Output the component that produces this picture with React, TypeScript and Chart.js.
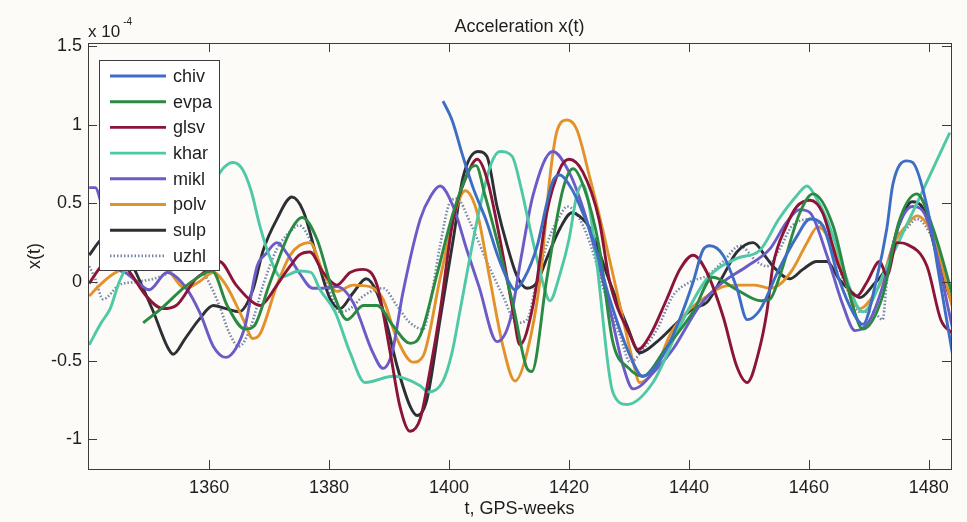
import React, { useEffect, useRef } from 'react';
import { Chart, registerables } from 'chart.js';

Chart.register(...registerables);

type Pts = [number, number][];

// values in units of 1e-4, x = GPS week
const chiv: Pts = [[1399,1.15],[1400.5,1.03],[1402.3,0.8],[1404,0.6],[1406.3,0.38],[1408,0.18],[1409.7,0.02],[1411,-0.05],[1412.5,0.02],[1414.7,0.23],[1416.3,0.5],[1417.3,0.64],[1418.5,0.68],[1420,0.62],[1421.3,0.53],[1424,0.27],[1426.8,-0.11],[1430.2,-0.47],[1432.3,-0.6],[1435,-0.51],[1438,-0.28],[1440.7,0],[1442.3,0.2],[1443.5,0.23],[1445.7,0.17],[1448,-0.04],[1449.7,-0.24],[1451.8,-0.18],[1455,0.08],[1458,0.29],[1460.2,0.4],[1462.3,0.36],[1465,0.02],[1467.3,-0.19],[1469,-0.27],[1471.3,0.02],[1473,0.34],[1474,0.62],[1476.3,0.77],[1477.3,0.76],[1479.7,0.48],[1481.8,0.02],[1484,-0.47]];

const evpa: Pts = [[1349,-0.26],[1352,-0.17],[1356,-0.03],[1359.5,0.06],[1360.5,0.07],[1363,-0.15],[1366,-0.3],[1367.5,-0.28],[1370,-0.02],[1373.5,0.32],[1375.5,0.41],[1378,0.27],[1380.7,-0.07],[1383,-0.24],[1385.7,-0.15],[1388,-0.15],[1390.7,-0.28],[1393.5,-0.39],[1395.2,-0.34],[1398,0.05],[1400.7,0.44],[1403.5,0.72],[1404.5,0.74],[1406,0.55],[1408.5,0.19],[1410.7,-0.15],[1413,-0.55],[1413.8,-0.57],[1416.3,0.02],[1419,0.59],[1420.7,0.72],[1422.5,0.6],[1425,0.23],[1427.3,-0.38],[1430,-0.55],[1432.3,-0.6],[1436,-0.43],[1440.7,-0.19],[1444,0.03],[1448,-0.05],[1452,-0.12],[1453.5,-0.11],[1455,0.02],[1458.5,0.44],[1460.7,0.56],[1464,0.36],[1467.3,-0.15],[1469,-0.3],[1472.3,-0.09],[1475,0.38],[1478,0.56],[1480.7,0.34],[1484,-0.09]];

const glsv: Pts = [[1340,-0.01],[1342,0.1],[1344,0.15],[1346,0.1],[1347,0.05],[1349.5,-0.09],[1352.3,-0.17],[1354.5,-0.15],[1357.8,0.02],[1360,0.08],[1361.7,0.13],[1364.5,-0.02],[1367.3,-0.13],[1368.5,-0.15],[1369.5,-0.12],[1371.3,-0.02],[1373.5,0.1],[1375,0.17],[1376.8,0.19],[1379,0.06],[1381.3,-0.02],[1383.5,0.06],[1385.7,0.08],[1388,-0.02],[1390.2,-0.45],[1391.8,-0.79],[1393.5,-0.95],[1395.2,-0.87],[1396.8,-0.57],[1398.5,-0.19],[1400.7,0.4],[1403,0.68],[1404.7,0.78],[1406.3,0.66],[1408.5,0.27],[1410.7,-0.19],[1411.8,-0.4],[1414,-0.15],[1416.3,0.44],[1418.5,0.72],[1420,0.78],[1422.3,0.7],[1425,0.4],[1426.8,0],[1430.2,-0.34],[1431.5,-0.43],[1433.5,-0.34],[1436.3,-0.11],[1438.5,0.08],[1440.7,0.17],[1443,0.06],[1445.7,-0.22],[1448,-0.54],[1449.7,-0.64],[1451.8,-0.42],[1453,-0.19],[1454,0.1],[1456.3,0.36],[1458,0.48],[1460.2,0.52],[1462.3,0.44],[1465,0.1],[1468,-0.09],[1469.7,0],[1471.8,0.13],[1473,0.04],[1474.7,0.25],[1476.3,0.24],[1479.7,0.1],[1482,-0.24],[1484,-0.33]];

const khar: Pts = [[1340,-0.4],[1342,-0.26],[1343.5,-0.17],[1345,0.0],[1347,0.15],[1350,0.3],[1354,0.4],[1358,0.5],[1361,0.65],[1362.5,0.73],[1364,0.76],[1365.5,0.72],[1367,0.58],[1368.5,0.35],[1370,0.17],[1372,0.03],[1375,0.07],[1377,0.06],[1378.5,-0.05],[1381,-0.19],[1383.5,-0.45],[1386,-0.64],[1390.7,-0.6],[1395.2,-0.66],[1396.5,-0.7],[1399,-0.63],[1400.5,-0.45],[1401.8,-0.19],[1405,0.45],[1407,0.75],[1408.5,0.83],[1410.5,0.8],[1412,0.6],[1413.5,0.34],[1416.3,-0.09],[1416.8,-0.12],[1418.5,0.05],[1420,0.27],[1421.3,0.55],[1422.3,0.62],[1423.3,0.5],[1424.7,0.1],[1427.3,-0.7],[1429.7,-0.78],[1434,-0.64],[1438.5,-0.28],[1443,0.02],[1448,0.15],[1451.8,0.2],[1455,0.4],[1458,0.55],[1459.7,0.61],[1461,0.55],[1463,0.4],[1468,-0.15],[1469,-0.19],[1473,0.1],[1483.5,0.95]];

const mikl: Pts = [[1340,0.6],[1341,0.6],[1342,0.5],[1343.5,0.25],[1345,0.08],[1346,0.06],[1348,0.0],[1350,-0.05],[1353,0.06],[1356,-0.03],[1358.5,-0.2],[1360.7,-0.41],[1362.8,-0.48],[1364.5,-0.42],[1366,-0.28],[1368,0.1],[1369.5,0.18],[1371.3,0.25],[1373,0.18],[1375,0.06],[1377.3,-0.04],[1379,-0.04],[1381.3,-0.03],[1384,-0.13],[1387.3,-0.45],[1389,-0.55],[1390.5,-0.45],[1392.3,-0.07],[1395.2,0.4],[1397,0.55],[1398.5,0.61],[1400.7,0.48],[1403,0.2],[1405,-0.03],[1408,-0.38],[1410.2,-0.24],[1412,0.15],[1414,0.55],[1417.3,0.83],[1420,0.7],[1422.5,0.45],[1424.7,0.15],[1426.8,-0.17],[1429,-0.53],[1430.7,-0.68],[1434.7,-0.55],[1437.3,-0.43],[1441.8,-0.15],[1445.7,0],[1449.7,0.1],[1453.5,0.21],[1456.3,0.38],[1458.5,0.46],[1460.2,0.44],[1463,0.17],[1465.7,-0.15],[1467.7,-0.31],[1470.2,-0.24],[1472.3,-0.03],[1475,0.36],[1477.3,0.48],[1479.7,0.4],[1484,-0.3]];

const polv: Pts = [[1340,-0.09],[1341.5,-0.03],[1344,0.05],[1347,0.1],[1350,0.12],[1353,0.08],[1356,-0.04],[1358.3,0],[1360.7,0.06],[1362.8,-0.02],[1365.7,-0.24],[1367.3,-0.36],[1368.5,-0.33],[1371.3,-0.02],[1373.5,0.17],[1375,0.23],[1376.8,0.25],[1379,0.06],[1381.3,-0.06],[1384,-0.02],[1386.8,-0.03],[1389,-0.11],[1391.3,-0.36],[1394,-0.51],[1395.7,-0.47],[1398.5,0.02],[1401.3,0.48],[1402.7,0.58],[1404.7,0.44],[1406.8,0.02],[1409,-0.41],[1411,-0.63],[1413,-0.45],[1415.2,0.02],[1416.8,0.66],[1418,0.96],[1419.7,1.03],[1421.3,0.97],[1423.5,0.66],[1425.7,0.32],[1428.5,-0.15],[1430.7,-0.51],[1431.8,-0.64],[1434.7,-0.53],[1436.8,-0.34],[1439.7,-0.19],[1443,-0.09],[1445.7,-0.03],[1448.5,-0.02],[1451,-0.02],[1453.5,-0.04],[1455,-0.02],[1457.3,0.08],[1459.7,0.25],[1461.5,0.35],[1464,0.23],[1466.8,-0.07],[1468.5,-0.17],[1470.7,-0.09],[1472.3,0.02],[1474,0.23],[1476.3,0.36],[1478,0.42],[1480.7,0.29],[1484,-0.17]];

const sulp: Pts = [[1340,0.17],[1342,0.27],[1344,0.3],[1346,0.2],[1347.8,0.06],[1350.7,-0.19],[1353,-0.41],[1354,-0.46],[1356,-0.36],[1358.3,-0.24],[1360.7,-0.15],[1362.8,-0.17],[1365,-0.19],[1367.3,-0.05],[1369,0.2],[1371.3,0.4],[1373.8,0.54],[1375.7,0.45],[1378,0.15],[1380.2,-0.11],[1381.8,-0.17],[1384,-0.07],[1386.2,0.02],[1388,-0.07],[1389.7,-0.28],[1391.3,-0.53],[1393.5,-0.79],[1394.7,-0.85],[1396.3,-0.75],[1398.5,-0.24],[1400.7,0.27],[1402.3,0.66],[1404.8,0.83],[1406.3,0.8],[1408,0.48],[1409.7,0.23],[1411.3,0.04],[1413,-0.04],[1414.7,0],[1416.3,0.15],[1418.5,0.34],[1420.5,0.44],[1422.3,0.4],[1423.5,0.34],[1426.8,0],[1429.7,-0.28],[1431.8,-0.45],[1434.7,-0.38],[1438,-0.26],[1440.7,-0.17],[1443,-0.13],[1445.7,0.04],[1448,0.19],[1450.7,0.25],[1453,0.15],[1454,0.1],[1456.8,0.02],[1459,0.08],[1461.3,0.13],[1463,0.13],[1465,0.02],[1467.3,-0.07],[1468.5,-0.1],[1470.7,-0.02],[1473,0.1],[1475,0.36],[1477.2,0.51],[1479,0.47],[1481.8,0.1],[1484,-0.15]];

const uzhl: Pts = [[1340,0.1],[1341,0.02],[1342.3,-0.11],[1345,-0.02],[1347.8,0],[1350.7,0.02],[1353.3,0.06],[1356,0.15],[1359,0.06],[1361.7,-0.15],[1363.3,-0.32],[1365,-0.41],[1366.8,-0.3],[1369,-0.02],[1371.3,0.21],[1373.5,0.32],[1375,0.36],[1376.8,0.27],[1379.7,-0.02],[1381.8,-0.19],[1383.5,-0.17],[1385.7,-0.09],[1389,-0.04],[1391.3,-0.15],[1393.5,-0.26],[1395.7,-0.3],[1397,-0.1],[1398.5,0.23],[1400.2,0.51],[1401.3,0.53],[1403.5,0.38],[1406.3,0.13],[1409,-0.09],[1411.3,-0.26],[1413,-0.24],[1414.7,0.02],[1416.8,0.29],[1418.5,0.42],[1419.7,0.48],[1421.8,0.4],[1424,0.19],[1425.7,-0.04],[1428.5,-0.34],[1430.2,-0.51],[1432.3,-0.43],[1434.7,-0.3],[1437.3,-0.09],[1440.2,0],[1443,0.04],[1445.7,0.13],[1448.5,0.23],[1451.3,0.13],[1453,0.1],[1455,0.2],[1457.3,0.36],[1460.7,0.4],[1463,0.29],[1465.7,0.02],[1468.5,-0.19],[1470.7,-0.19],[1472.3,-0.24],[1473,0.0],[1474,0.23],[1476.3,0.34],[1478,0.4],[1480.7,0.27],[1484,-0.09]];

const seriesNames = ['chiv', 'evpa', 'glsv', 'khar', 'mikl', 'polv', 'sulp', 'uzhl'];
const seriesData: Pts[] = [chiv, evpa, glsv, khar, mikl, polv, sulp, uzhl];
const seriesColors = ['#3e6dc4', '#2a8a44', '#8a1538', '#4fc8a6', '#6a5bc6', '#e3922a', '#2c3034', '#7586a8'];

const xTicks = [1360, 1380, 1400, 1420, 1440, 1460, 1480];
const yTicks = [-1, -0.5, 0, 0.5, 1, 1.5];

const FONT = "'Liberation Sans', Arial, Helvetica, sans-serif";
const TEXT = '#1e1e1e';
const BG = '#fcfbf8';

const framePlugin = {
  id: 'matlabFrame',
  beforeDraw(chart: any) {
    const { ctx, width, height } = chart;
    ctx.save();
    ctx.fillStyle = BG;
    ctx.fillRect(0, 0, width, height);
    ctx.restore();
  },
  afterDraw(chart: any) {
    const { ctx, chartArea, scales } = chart;
    const { left, right, top, bottom } = chartArea;
    ctx.save();
    ctx.strokeStyle = '#3c3c3c';
    ctx.lineWidth = 1;
    ctx.setLineDash([]);
    ctx.strokeRect(Math.round(left) + 0.5, Math.round(top) + 0.5, Math.round(right - left), Math.round(bottom - top));
    // inward ticks
    ctx.beginPath();
    xTicks.forEach((t) => {
      const px = Math.round(scales.x.getPixelForValue(t)) + 0.5;
      ctx.moveTo(px, bottom); ctx.lineTo(px, bottom - 9);
      ctx.moveTo(px, top); ctx.lineTo(px, top + 9);
    });
    yTicks.forEach((v) => {
      const py = Math.round(scales.y.getPixelForValue(v)) + 0.5;
      ctx.moveTo(left, py); ctx.lineTo(left + 9, py);
      ctx.moveTo(right, py); ctx.lineTo(right - 9, py);
    });
    ctx.stroke();

    // exponent label
    ctx.fillStyle = TEXT;
    ctx.textBaseline = 'alphabetic';
    ctx.textAlign = 'left';
    ctx.font = `17px ${FONT}`;
    ctx.fillText('x 10', left, top - 6);
    const w = ctx.measureText('x 10').width;
    ctx.font = `10px ${FONT}`;
    ctx.fillText('-4', left + w + 3, top - 18);

    // legend
    const lx = left + 11, ly = top + 17, lw = 120, lh = 210;
    ctx.fillStyle = '#ffffff';
    ctx.fillRect(lx, ly, lw, lh);
    ctx.strokeStyle = '#3c3c3c';
    ctx.lineWidth = 1;
    ctx.strokeRect(lx + 0.5, ly + 0.5, lw, lh);
    ctx.font = `18px ${FONT}`;
    ctx.textBaseline = 'middle';
    chart.data.datasets.forEach((ds: any, i: number) => {
      const y = ly + 16 + i * 25.7;
      ctx.strokeStyle = ds.borderColor;
      ctx.lineWidth = ds.borderWidth;
      ctx.setLineDash(ds.borderDash || []);
      ctx.beginPath();
      ctx.moveTo(lx + 11, y);
      ctx.lineTo(lx + 67, y);
      ctx.stroke();
      ctx.setLineDash([]);
      ctx.fillStyle = TEXT;
      ctx.fillText(ds.label, lx + 74, y + 1);
    });
    ctx.restore();
  },
};

export default function App() {
  const ref = useRef<HTMLCanvasElement | null>(null);
  useEffect(() => {
    if (!ref.current) return;
    const chart = new Chart(ref.current, {
      type: 'line',
      data: {
        datasets: seriesNames.map((name, i) => ({
          label: name,
          data: seriesData[i].map(([x, y]) => ({ x, y })),
          borderColor: seriesColors[i],
          backgroundColor: seriesColors[i],
          borderWidth: name === 'uzhl' ? 2.6 : 2.9,
          borderDash: name === 'uzhl' ? [1.5, 2] : [],
          pointRadius: 0,
          cubicInterpolationMode: 'monotone' as const,
          fill: false,
        })),
      },
      options: {
        animation: false,
        responsive: true,
        maintainAspectRatio: false,
        layout: { padding: { left: 0, right: 16, top: 0, bottom: 0 } },
        plugins: {
          legend: { display: false },
          tooltip: { enabled: false },
          title: {
            display: true,
            text: 'Acceleration x(t)',
            color: TEXT,
            font: { family: FONT, size: 18, weight: 'normal' },
            padding: { top: 16, bottom: 5.4 },
            fullSize: false,
          },
        },
        scales: {
          x: {
            type: 'linear',
            min: 1339.8,
            max: 1483.7,
            grid: { display: false, drawTicks: false },
            border: { display: false },
            afterBuildTicks: (s: any) => { s.ticks = xTicks.map((v) => ({ value: v })); },
            afterFit: (s: any) => { s.height = 53; },
            ticks: {
              color: TEXT,
              font: { family: FONT, size: 18 },
              padding: 8,
              autoSkip: false,
              maxRotation: 0,
              callback: (v: any) => String(v),
            },
            title: {
              display: true,
              text: 't, GPS-weeks',
              color: TEXT,
              font: { family: FONT, size: 18 },
              padding: { top: 0, bottom: 2 },
            },
          },
          y: {
            type: 'linear',
            min: -1.19,
            max: 1.52,
            grid: { display: false, drawTicks: false },
            border: { display: false },
            afterBuildTicks: (s: any) => { s.ticks = yTicks.map((v) => ({ value: v })); },
            afterFit: (s: any) => { s.width = 88; },
            ticks: {
              color: TEXT,
              font: { family: FONT, size: 18 },
              padding: 6,
              autoSkip: false,
              callback: (v: any) => String(v),
            },
            title: {
              display: true,
              text: 'x(t)',
              color: TEXT,
              font: { family: FONT, size: 18 },
              padding: { top: 24, bottom: 0 },
            },
          },
        },
      },
      plugins: [framePlugin],
    });
    return () => chart.destroy();
  }, []);
  return (
    <div style={{ position: 'fixed', left: 0, top: 0, width: 967, height: 522, background: BG }}>
      <canvas ref={ref} />
    </div>
  );
}
